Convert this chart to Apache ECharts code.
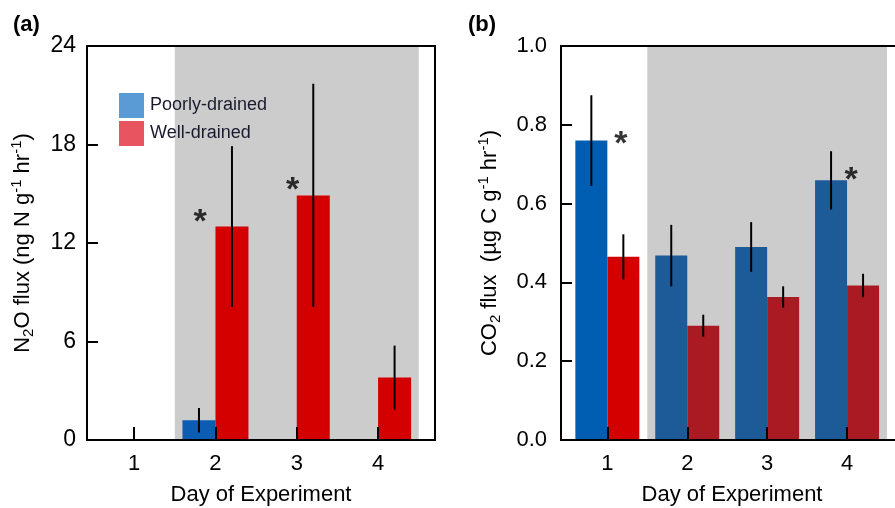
<!DOCTYPE html>
<html>
<head>
<meta charset="utf-8">
<script src="https://cdn.jsdelivr.net/npm/echarts@6/dist/echarts.min.js"></script>
<style>
  html, body { margin: 0; padding: 0; background: #fff; }
  #chart { width: 895px; height: 508px; }
</style>
</head>
<body>
<div id="chart"></div>
<script>
// days of the experiment (x positions)
const days = [1, 2, 3, 4];
const tickDays = [1, 2, 3, 4];

// (a) N2O flux, ng N g-1 hr-1
const n2oPoor = [0, 1.2, 0, 0];
const n2oPoorErr = [0, 0.75, 0, 0];
const n2oWell = [0, 13.0, 14.9, 3.8];
const n2oWellErr = [0, 4.9, 6.8, 1.95];
const n2oStars = [[1.81, 13.7], [2.95, 15.65]];

// (b) CO2 flux, ug C g-1 hr-1
const co2Poor = [0.76, 0.468, 0.49, 0.659];
const co2PoorErr = [0.115, 0.078, 0.063, 0.074];
const co2Well = [0.465, 0.29, 0.363, 0.392];
const co2WellErr = [0.057, 0.028, 0.027, 0.03];
const co2Stars = [[1.17, 0.771], [4.05, 0.678]];

// shaded days
const shadeFrom = 1.5, shadeTo = 4.5;

const FONT = '"Liberation Sans", Arial, sans-serif';
const blueA = '#0a5db2', redA = '#d40000';
const blueB = ['#005eb2', '#1c5a98', '#1c5a98', '#1c5a98'];
const redB = ['#d40000', '#aa1a22', '#aa1a22', '#aa1a22'];

var myChart = echarts.init(document.getElementById('chart'));

function barData(vals, colors){
  return days.map((d, i) => {
    let item = { value: [d, vals[i]] }
    if(colors) item.itemStyle = { color: colors[i] }
    return item
  })
}

function errData(vals, errs){
  let out = []
  days.forEach((d, i) => {
    if(errs[i] > 0) out.push([d, vals[i] - errs[i], vals[i] + errs[i]])
  })
  return out
}

function errSeries(idx, data, offset){
  return {
    type: 'custom',
    xAxisIndex: idx, yAxisIndex: idx,
    z: 4,
    silent: true,
    encode: { x: 0, y: [1, 2] },
    data: data,
    renderItem: (params, api) => {
      let p1 = api.coord([api.value(0), api.value(2)])
      let p2 = api.coord([api.value(0), api.value(1)])
      return {
        type: 'line',
        shape: { x1: p1[0] + offset, y1: p1[1], x2: p2[0] + offset, y2: p2[1] },
        style: { stroke: '#000', lineWidth: 2 }
      }
    }
  }
}

function starSeries(idx, data){
  return {
    type: 'scatter',
    xAxisIndex: idx, yAxisIndex: idx,
    z: 5,
    symbolSize: 0,
    silent: true,
    data: data,
    label: {
      show: true, position: 'inside', formatter: '*',
      fontFamily: FONT, fontSize: 34, fontWeight: 'bold', color: '#000',
      offset: [0, 8]
    }
  }
}

function shadeSeries(idx){
  return {
    type: 'line', xAxisIndex: idx, yAxisIndex: idx, z: 1, data: [],
    markArea: {
      silent: true,
      itemStyle: { color: '#cccccc' },
      data: [[{ xAxis: shadeFrom }, { xAxis: shadeTo }]]
    }
  }
}

const richName = {
  n: { fontSize: 22, fontFamily: FONT, color: '#000', lineHeight: 27 },
  sub: { fontSize: 15, fontFamily: FONT, color: '#000', verticalAlign: 'bottom', lineHeight: 24 },
  sup: { fontSize: 15, fontFamily: FONT, color: '#000', verticalAlign: 'top', lineHeight: 15 }
}

function xAxisCfg(idx){
  return {
    type: 'value', gridIndex: idx,
    min: 0.42, max: 4.7,
    z: 6,
    name: 'Day of Experiment',
    nameLocation: 'middle',
    nameGap: 44,
    nameTextStyle: { fontFamily: FONT, fontSize: 22, color: '#000' },
    axisLine: { show: true, lineStyle: { color: '#000', width: 2 } },
    axisTick: { show: true, inside: true, length: 13, customValues: tickDays, lineStyle: { color: '#000', width: 2 } },
    axisLabel: { customValues: tickDays, margin: 13, fontFamily: FONT, fontSize: 22, color: '#000' },
    splitLine: { show: false }
  }
}

var option = {
  animation: false,
  backgroundColor: '#fff',
  graphic: [
    { type: 'text', left: 13, top: 14, style: { text: '(a)', font: 'bold 22px ' + FONT, fill: '#000' } },
    { type: 'text', left: 468, top: 14, style: { text: '(b)', font: 'bold 22px ' + FONT, fill: '#000' } }
  ],
  legend: {
    data: [
      { name: 'Poorly-drained', itemStyle: { color: '#5b9bd5' } },
      { name: 'Well-drained', itemStyle: { color: '#e8545f' } }
    ],
    orient: 'vertical',
    left: 119, top: 93,
    padding: 0,
    itemWidth: 25, itemHeight: 25, itemGap: 3,
    icon: 'rect',
    selectedMode: false,
    textStyle: { fontFamily: FONT, fontSize: 18, color: '#1a1a2e', padding: [0, 0, 0, 1] }
  },
  grid: [
    { left: 87, top: 46, width: 348, height: 394, show: true, z: 10, borderColor: '#000', borderWidth: 2, backgroundColor: 'transparent', outerBoundsMode: 'none' },
    { left: 561, top: 46, width: 342, height: 394, show: true, z: 10, borderColor: '#000', borderWidth: 2, backgroundColor: 'transparent', outerBoundsMode: 'none' }
  ],
  xAxis: [xAxisCfg(0), xAxisCfg(1)],
  yAxis: [
    {
      type: 'value', gridIndex: 0, min: 0, max: 24, interval: 6, z: 6,
      name: '{n|N}{sub|2}{n|O flux (ng N g}{sup|-1}{n| hr}{sup|-1}{n|)}',
      nameLocation: 'middle', nameGap: 51,
      nameTextStyle: { rich: richName },
      axisLine: { show: true, lineStyle: { color: '#000', width: 2 } },
      axisTick: { show: true, inside: true, length: 11, lineStyle: { color: '#000', width: 2 } },
      axisLabel: { margin: 11, fontFamily: FONT, fontSize: 23, color: '#000' },
      splitLine: { show: false }
    },
    {
      type: 'value', gridIndex: 1, min: 0, max: 1, interval: 0.2, z: 6,
      name: '{n|CO}{sub|2}{n| flux  (µg C g}{sup|-1}{n| hr}{sup|-1}{n|)}',
      nameLocation: 'middle', nameGap: 58,
      nameTextStyle: { rich: richName },
      axisLine: { show: true, lineStyle: { color: '#000', width: 2 } },
      axisTick: { show: true, inside: true, length: 11, lineStyle: { color: '#000', width: 2 } },
      axisLabel: { margin: 14, fontFamily: FONT, fontSize: 22, color: '#000', formatter: v => v.toFixed(1) },
      splitLine: { show: false }
    }
  ],
  series: [
    shadeSeries(0),
    {
      name: 'Poorly-drained', type: 'bar', xAxisIndex: 0, yAxisIndex: 0, z: 2,
      barWidth: 33, barGap: 0, itemStyle: { color: blueA },
      data: barData(n2oPoor)
    },
    {
      name: 'Well-drained', type: 'bar', xAxisIndex: 0, yAxisIndex: 0, z: 2,
      barWidth: 33, barGap: 0, itemStyle: { color: redA },
      data: barData(n2oWell)
    },
    errSeries(0, errData(n2oPoor, n2oPoorErr), -16.5),
    errSeries(0, errData(n2oWell, n2oWellErr), 16.5),
    starSeries(0, n2oStars),

    shadeSeries(1),
    {
      name: 'Poorly-drained', type: 'bar', xAxisIndex: 1, yAxisIndex: 1, z: 2,
      barWidth: 32, barGap: 0, itemStyle: { color: blueB[1] },
      data: barData(co2Poor, blueB)
    },
    {
      name: 'Well-drained', type: 'bar', xAxisIndex: 1, yAxisIndex: 1, z: 2,
      barWidth: 32, barGap: 0, itemStyle: { color: redB[1] },
      data: barData(co2Well, redB)
    },
    errSeries(1, errData(co2Poor, co2PoorErr), -16),
    errSeries(1, errData(co2Well, co2WellErr), 16),
    starSeries(1, co2Stars)
  ]
};
myChart.setOption(option);
window.addEventListener("resize", () => {
  myChart.resize();
});
</script>
</body>
</html>
